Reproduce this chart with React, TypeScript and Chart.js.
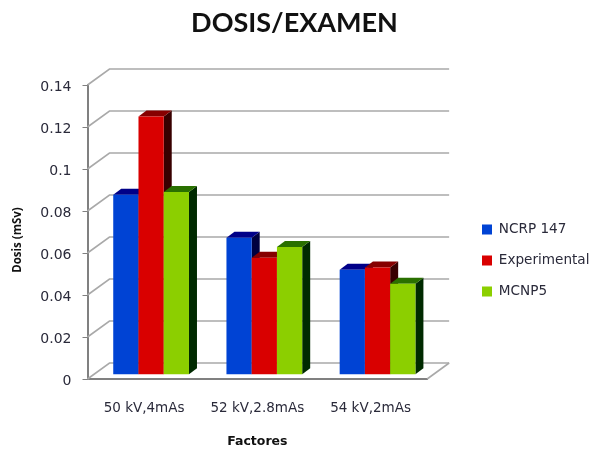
import React, { useEffect, useRef } from "react";
import { Chart, registerables } from "chart.js";

Chart.register(...registerables);

const categories = ["50 kV,4mAs", "52 kV,2.8mAs", "54 kV,2mAs"];
const ncrp147 = [0.0857, 0.0652, 0.05];
const experimental = [0.123, 0.0557, 0.051];
const mcnp5 = [0.087, 0.0608, 0.0433];
const yTicks = [0, 0.02, 0.04, 0.06, 0.08, 0.1, 0.12, 0.14];

const FONT = "'DejaVu Sans'";
const TEXT = "#2a2a3a";
const WALL = { dx: 22, dy: -16 };
const BAR_SHIFT = { dx: 7, dy: -4.3 };
const BAR_DEPTH = { dx: 8, dy: -6 };

const shades = [
  { top: "#000088", side: "#00003e" },
  { top: "#860000", side: "#380000" },
  { top: "#2a7000", side: "#002a00" },
];

const poly = (ctx: CanvasRenderingContext2D, pts: number[][], fill: string) => {
  ctx.beginPath();
  pts.forEach((p, i) => (i ? ctx.lineTo(p[0], p[1]) : ctx.moveTo(p[0], p[1])));
  ctx.closePath();
  ctx.fillStyle = fill;
  ctx.fill();
};

const shifted = (ctx: CanvasRenderingContext2D, fn: Function, dy: number) =>
  function (this: any, ...a: any[]) {
    ctx.save();
    ctx.translate(0, dy);
    fn.apply(this, a);
    ctx.restore();
  };

const wallPlugin = {
  id: "wall",
  afterLayout(chart: any) {
    const lg = chart.legend;
    const w = lg.right - lg.left;
    lg.left = 464.6;
    lg.right = lg.left + w;
    const h = lg.bottom - lg.top;
    lg.top = 205.2;
    lg.bottom = lg.top + h;
    chart.titleBlock.left = 0;
    chart.titleBlock.right = 589;
    const yScale = chart.scales.y;
    if (!yScale.__patched) {
      yScale.drawTitle = shifted(chart.ctx, yScale.drawTitle, 8);
      yScale.drawLabels = shifted(chart.ctx, yScale.drawLabels, 2);
      yScale.__patched = true;
    }
  },
  beforeDatasetsDraw(chart: any) {
    const { ctx, scales, chartArea } = chart;
    const y = scales.y;
    const l = chartArea.left;
    const r = chartArea.right;
    ctx.save();
    ctx.strokeStyle = "#a9a9a9";
    ctx.lineWidth = 1.6;
    yTicks.forEach((v) => {
      const py = y.getPixelForValue(v);
      ctx.beginPath();
      ctx.moveTo(l, py);
      ctx.lineTo(l + WALL.dx, py + WALL.dy);
      ctx.lineTo(r + WALL.dx, py + WALL.dy);
      ctx.stroke();
    });
    const base = y.getPixelForValue(0);
    ctx.beginPath();
    ctx.moveTo(r, base);
    ctx.lineTo(r + WALL.dx, base + WALL.dy);
    ctx.stroke();
    ctx.restore();

    // Series are painted first to last, so each bar covers the side of the one before it.
    chart.data.datasets.forEach((_: any, i: number) => {
      const meta = chart.getDatasetMeta(i);
      const s = shades[i];
      const { dx, dy } = BAR_DEPTH;
      ctx.save();
      ctx.translate(BAR_SHIFT.dx, BAR_SHIFT.dy);
      meta.data.forEach((bar: any) => {
        const left = bar.x - bar.width / 2;
        const right = bar.x + bar.width / 2;
        poly(ctx, [[right, bar.y], [right + dx, bar.y + dy], [right + dx, bar.base + dy], [right, bar.base]], s.side);
        poly(ctx, [[left, bar.y], [left + dx, bar.y + dy], [right + dx, bar.y + dy], [right, bar.y]], s.top);
      });
      meta.controller.draw();
      ctx.restore();
    });
    return false;
  },
};

export default function App() {
  const ref = useRef<HTMLCanvasElement>(null);
  useEffect(() => {
    const chart = new Chart(ref.current!, {
      type: "bar",
      data: {
        labels: categories,
        datasets: [
          { label: "NCRP 147", data: ncrp147, backgroundColor: "#0043d4" },
          { label: "Experimental", data: experimental, backgroundColor: "#d90000" },
          { label: "MCNP5", data: mcnp5, backgroundColor: "#8ccf00" },
        ],
      },
      plugins: [wallPlugin],
      options: {
        responsive: false,
        animation: false,
        layout: { padding: { left: 0, right: 33, top: 7, bottom: 0 } },
        datasets: { bar: { categoryPercentage: 0.669, barPercentage: 1, borderWidth: 0 } },
        plugins: {
          tooltip: { enabled: false },
          title: {
            display: true,
            text: "DOSIS/EXAMEN",
            color: "#111",
            font: { family: "Lato", size: 27, weight: "bold" },
            padding: { top: 0, bottom: 45.6 },
          },
          legend: {
            position: "right",
            align: "start",
            labels: {
              boxWidth: 10,
              boxHeight: 10,
              padding: 17.4,
              color: TEXT,
              font: { family: FONT, size: 13.6 },
            },
          },
        },
        scales: {
          x: {
            afterFit: (s: any) => { s.height = 72; },
            border: { display: true, color: "#808080", width: 2 },
            grid: { display: false },
            ticks: { color: TEXT, font: { family: FONT, size: 13.5 }, padding: 13, maxRotation: 0 },
            title: {
              display: true,
              text: "Factores",
              color: "#111",
              font: { family: FONT, size: 12.5, weight: "bold" },
              padding: { top: 10, bottom: 1.5 },
            },
          },
          y: {
            min: 0,
            max: 0.14,
            afterFit: (s: any) => { s.width = 87.5; },
            border: { display: true, color: "#808080", width: 2 },
            grid: { drawOnChartArea: false, color: "#808080", tickLength: 5 },
            ticks: {
              stepSize: 0.02,
              color: TEXT,
              font: { family: FONT, size: 14 },
              padding: 11,
              callback: (v: any) => String(Number(Number(v).toFixed(2))),
            },
            title: {
              display: true,
              text: "Dosis (mSv)",
              color: "#111",
              font: { family: "'Open Sans'", size: 11.5, weight: "bold" },
              padding: { top: 11, bottom: 4 },
            },
          },
        },
      },
    } as any);
    return () => chart.destroy();
  }, []);
  return (
    <div style={{ position: "absolute", left: 0, top: 0 }}>
      <canvas ref={ref} width={595} height={451} style={{ display: "block" }} />
    </div>
  );
}
